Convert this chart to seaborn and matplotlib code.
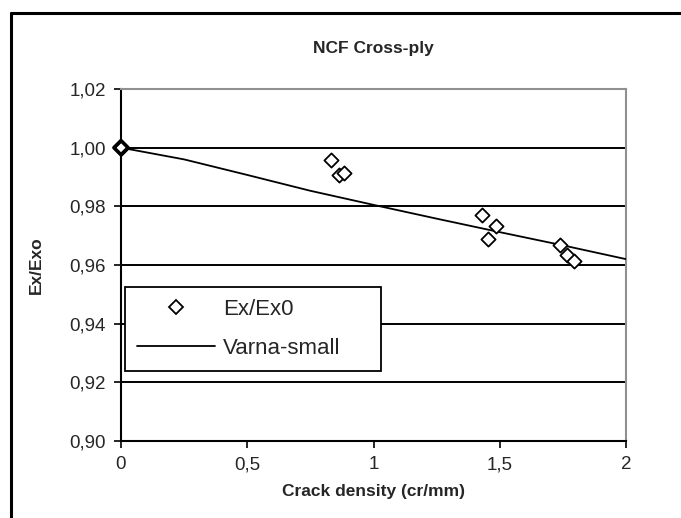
import matplotlib
matplotlib.use("Agg")
import matplotlib.pyplot as plt
import seaborn as sns
import pandas as pd
from matplotlib.lines import Line2D
from matplotlib.ticker import FuncFormatter

# data
exp_x = [0.0, 0.0, 0.0, 0.83, 0.863, 0.884, 1.431, 1.455, 1.484, 1.739, 1.768, 1.794]
exp_y = [1.0, 1.0, 1.0, 0.9957, 0.9906, 0.9912, 0.9769, 0.9690, 0.9732, 0.9667, 0.9633, 0.9613]
model_x = [0.0, 0.25, 0.5, 0.75, 1.0, 1.25, 1.5, 1.75, 2.0]
model_y = [1.0, 0.9960, 0.9907, 0.9853, 0.9805, 0.9758, 0.9712, 0.9667, 0.9620]
y_ticks = [0.90, 0.92, 0.94, 0.96, 0.98, 1.00, 1.02]
x_ticks = [0, 0.5, 1, 1.5, 2]

sns.set_style("white")
plt.rcParams["font.family"] = ["Liberation Sans", "DejaVu Sans"]

W, H = 681, 518
fig = plt.figure(figsize=(W / 100, H / 100), dpi=100)
ax = fig.add_axes([121 / W, 1 - 441 / H, (626 - 121) / W, (441 - 89) / H])

df_exp = pd.DataFrame({"x": exp_x, "y": exp_y})
df_mod = pd.DataFrame({"x": model_x, "y": model_y})

for yv in y_ticks[1:-1]:
    ax.axhline(yv, color="black", lw=1.4, zorder=1)

sns.lineplot(data=df_mod, x="x", y="y", ax=ax, color="black", lw=1.3,
             label="Varna-small", zorder=3, legend=False)
sns.scatterplot(data=df_exp, x="x", y="y", ax=ax, marker="D", s=52,
                facecolor="white", edgecolor="black", linewidth=1.3,
                label="Ex/Ex0", zorder=4, legend=False, clip_on=False)
# overlapping markers at the origin look heavier in the reference
sns.scatterplot(data=df_exp.iloc[:1], x="x", y="y", ax=ax, marker="D", s=52,
                facecolor="none", edgecolor="black", linewidth=2.6,
                zorder=4, legend=False, clip_on=False)

ax.set_xlim(0, 2)
ax.set_ylim(0.90, 1.02)
ax.set_xticks(x_ticks)
ax.set_yticks(y_ticks)
ax.xaxis.set_major_formatter(FuncFormatter(lambda v, p: ("%g" % v).replace(".", ",")))
ax.yaxis.set_major_formatter(FuncFormatter(lambda v, p: ("%.2f" % v).replace(".", ",")))
ax.tick_params(axis="both", which="major", direction="out", length=5, width=1.2,
               color="black", labelsize=13.5, pad=6, left=True, bottom=True)

for s in ["left", "bottom"]:
    ax.spines[s].set_color("black")
    ax.spines[s].set_linewidth(1.5)
for s in ["top", "right"]:
    ax.spines[s].set_color("#909090")
    ax.spines[s].set_linewidth(1.5)

ax.set_title("NCF Cross-ply", fontsize=12.5, fontweight="bold", pad=26)
ax.set_xlabel("Crack density (cr/mm)", fontsize=12.5, fontweight="bold", labelpad=8)
ax.set_ylabel("Ex/Exo", fontsize=12.5, fontweight="bold", labelpad=18)

handles = [
    Line2D([], [], marker="D", ls="none", markersize=7.2, markerfacecolor="white",
           markeredgecolor="black", markeredgewidth=1.3),
    Line2D([], [], color="black", lw=1.3),
]
leg = ax.legend(handles, ["Ex/Ex0", "Varna-small"], loc="upper left",
                bbox_to_anchor=(4 / 505, 0.2017, 0.507, 0.236), mode="expand",
                borderaxespad=0, fontsize=16, labelspacing=0.8, borderpad=0.55,
                handlelength=3.5, handletextpad=0.35, fancybox=False, frameon=True)
leg.get_frame().set_edgecolor("black")
leg.get_frame().set_linewidth(1.3)
leg.get_frame().set_facecolor("white")
leg.get_frame().set_alpha(1)
leg.set_zorder(5)

# outer chart border (top and left)
fig.add_artist(Line2D([11 / W, 1], [1 - 13 / H, 1 - 13 / H], color="black", lw=2.2,
                      transform=fig.transFigure))
fig.add_artist(Line2D([11 / W, 11 / W], [0, 1 - 13 / H], color="black", lw=2.2,
                      transform=fig.transFigure))

fig.savefig("out.png", dpi=100, facecolor="white")
